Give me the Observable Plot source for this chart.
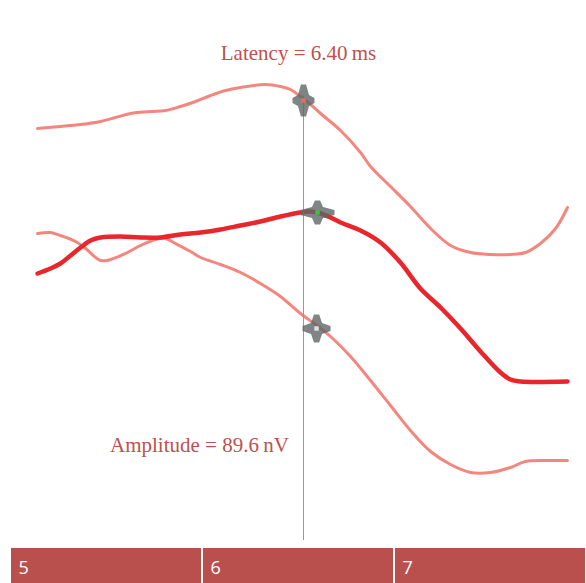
<!DOCTYPE html>
<html><head><meta charset="utf-8">
<script src="https://cdn.jsdelivr.net/npm/d3@7"></script>
<script src="https://cdn.jsdelivr.net/npm/@observablehq/plot@0.6"></script>
<style>html,body{margin:0;padding:0;background:#fff;}</style>
</head><body><div id="chart"></div>
<script>
// time in ms, amplitude in arbitrary units
const topT = [5.141,5.260,5.365,5.469,5.547,5.625,5.729,5.807,5.885,5.964,6.042,6.120,6.198,6.328,6.406,6.458,6.510,6.563,6.615,6.719,6.823,6.875,6.979,7.083,7.188,7.292,7.396,7.500,7.604,7.682,7.760,7.839,7.901];
const topV = [172,174,176,179,183,187,189,190,194,199,205,210,213,216,214,211,204,196,187,170,148,134,114,94,72,55,48,46,46,48,57,72,93];

const midT = [5.141,5.208,5.260,5.313,5.365,5.417,5.469,5.573,5.677,5.781,5.885,5.990,6.094,6.198,6.302,6.406,6.510,6.563,6.615,6.667,6.719,6.823,6.927,7.031,7.135,7.240,7.344,7.448,7.552,7.604,7.656,7.901];
const midV = [27,32,37,45,53,60,63,64,63,63,66,68,71,75,79,84,88,89,87,83,78,70,58,38,12,-7,-28,-51,-72,-79,-81,-81];

const botT = [5.141,5.208,5.260,5.339,5.391,5.469,5.521,5.599,5.677,5.755,5.807,5.859,5.938,5.990,6.094,6.198,6.302,6.406,6.510,6.589,6.667,6.771,6.875,6.979,7.083,7.188,7.292,7.396,7.500,7.604,7.682,7.786,7.901];
const botV = [67,68,65,59,52,40,41,47,55,61,62,57,49,43,36,28,17,4,-13,-24,-36,-56,-80,-105,-130,-151,-164,-172,-172,-167,-161,-160,-160];

const cursorT = 6.526;
const cursorV = [205, -240];
const starT = [6.526, 6.599, 6.594];
const starV = [200, 88, -28];

const binStart = [5, 6, 7];
const binLabels = ["5", "6", "7"];
const barV = [-248, -283];

const latencyLabel = "Latency = 6.40\u2009ms";
const amplitudeLabel = "Amplitude = 89.6\u2009nV";

const toRows = (T, V) => T.map((t, i) => ({t, v: V[i]}));

const star4 = (rx, ry, k) => ({
  draw(ctx) {
    const w = 2.6;
    const pts = [[-w,-ry],[w,-ry],[k,-k],[rx,-w],[rx,w],[k,k],[w,ry],[-w,ry],[-k,k],[-rx,w],[-rx,-w],[-k,-k]];
    pts.forEach(([x, y], i) => i === 0 ? ctx.moveTo(x, y) : ctx.lineTo(x, y));
    ctx.closePath();
  }
});
const starShapes = [star4(11, 16, 5.5), star4(17, 12, 5.5), star4(14, 14, 5.5)];
const starCenters = ["#e86a66", "#3cc43c", "#e0e0e0"];

const stars = starT.map((t, i) => ({t, v: starV[i]}));
const bins = binStart.map((s, i) => ({x1: s, x2: s + 1, label: binLabels[i]}));

const chart = Plot.plot({
  width: 586,
  height: 583,
  margin: 0,
  x: {domain: [5, 8], range: [10, 586], axis: null},
  y: {domain: [-283, 300], range: [583, 0], axis: null},
  marks: [
    Plot.line(toRows(topT, topV), {x: "t", y: "v", stroke: "#f4867e", strokeWidth: 3, curve: "catmull-rom"}),
    Plot.line(toRows(botT, botV), {x: "t", y: "v", stroke: "#f4867e", strokeWidth: 3, curve: "catmull-rom"}),
    Plot.line(toRows(midT, midV), {x: "t", y: "v", stroke: "#e8262b", strokeWidth: 4.5, curve: "catmull-rom"}),
    Plot.ruleX([cursorT], {y1: cursorV[0], y2: cursorV[1], stroke: "#999", strokeWidth: 1}),
    ...stars.map((s, i) => Plot.dot([s], {x: "t", y: "v", symbol: starShapes[i], fill: "#5f6566", fillOpacity: 0.8, stroke: "none"})),
    ...stars.map((s, i) => Plot.dot([s], {x: "t", y: "v", symbol: "square", r: 2.5, fill: starCenters[i], stroke: "none"})),
    Plot.text([latencyLabel], {x: 6.5, y: 247, text: d => d, fill: "#c0504d", fontSize: 21, fontFamily: "Liberation Serif", textAnchor: "middle"}),
    Plot.text([amplitudeLabel], {x: 5.984, y: -145, text: d => d, fill: "#c0504d", fontSize: 21, fontFamily: "Liberation Serif", textAnchor: "middle"}),
    Plot.rect(bins, {x1: "x1", x2: "x2", y1: barV[0], y2: barV[1], fill: "#b9504d", insetLeft: 1, insetRight: 1}),
    Plot.text(bins, {x: "x1", y: -268, text: "label", fill: "#fff", fontSize: 18, fontFamily: "Open Sans", textAnchor: "start", dx: 8})
  ]
});
document.getElementById("chart").appendChild(chart);
</script>
</body></html>
